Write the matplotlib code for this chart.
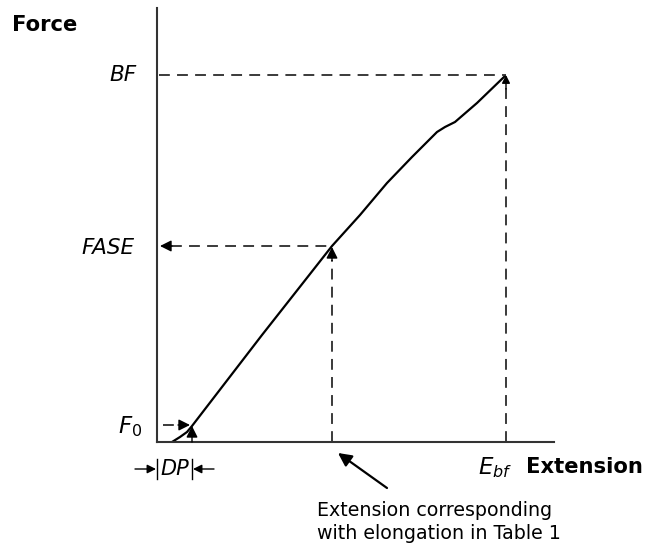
import numpy as np
import matplotlib.pyplot as plt

plt.rcParams['mathtext.fontset'] = 'dejavusans'

# force-extension curve (arbitrary units)
ext = [15, 23, 30, 35, 105, 153, 175, 203, 230, 255, 280, 288, 298, 320, 348]
force = [0, 5, 10, 16, 107, 168, 196, 227, 259, 285, 310, 315, 320, 339, 366]

# marked points
dp, f0 = 35, 17          # DP / F0
e_ase, fase = 175, 196   # extension at FASE
e_bf, bf = 349, 367      # break

fig = plt.figure(figsize=(6.48, 5.44), dpi=100)
ax = fig.add_axes([157 / 648, 102 / 544, 397 / 648, 434 / 544])
ax.set_xlim(0, 397)
ax.set_ylim(0, 434)
for s in ['top', 'right']:
    ax.spines[s].set_visible(False)
for s in ['left', 'bottom']:
    ax.spines[s].set_linewidth(1.5)
    ax.spines[s].set_color('#333333')
ax.set_xticks([])
ax.set_yticks([])

ax.plot(ext, force, color='black', lw=1.6, solid_capstyle='round', solid_joinstyle='round')

dash = dict(color='#2b2b2b', lw=1.3, dashes=(6, 4))
head = dict(arrowstyle='-|>', color='black', lw=1.0, mutation_scale=17, shrinkA=0, shrinkB=0)

# BF guides
ax.plot([2, e_bf], [bf, bf], **dash)
ax.plot([e_bf, e_bf], [0, bf - 12], **dash)
ax.annotate('', xy=(e_bf, bf), xytext=(e_bf, bf - 14), arrowprops=dict(head, mutation_scale=12))

# FASE guides
ax.plot([14, e_ase], [fase, fase], **dash)
ax.annotate('', xy=(3, fase), xytext=(15, fase), arrowprops=head)
ax.plot([e_ase, e_ase], [0, fase - 14], **dash)
ax.annotate('', xy=(e_ase, fase - 1), xytext=(e_ase, fase - 15), arrowprops=head)

# F0 / DP guides
ax.plot([6, dp - 12], [f0, f0], **dash)
ax.annotate('', xy=(dp - 2, f0), xytext=(dp - 14, f0), arrowprops=head)
ax.annotate('', xy=(dp, f0 - 1), xytext=(dp, 0), arrowprops=head)

# DP width marker below the axis
y_dp = -27
ax.plot([0, 0], [y_dp - 10, y_dp + 10], color='black', lw=1.0, clip_on=False)
ax.plot([dp, dp], [y_dp - 10, y_dp + 10], color='black', lw=1.0, clip_on=False)
ax.annotate('', xy=(-1, y_dp), xytext=(-22, y_dp), arrowprops=dict(head, mutation_scale=13),
            annotation_clip=False)
ax.annotate('', xy=(dp + 1, y_dp), xytext=(dp + 22, y_dp), arrowprops=dict(head, mutation_scale=13),
            annotation_clip=False)
ax.text(dp / 2, y_dp, 'DP', fontsize=15, style='italic', ha='center', va='center')

# labels
fs = 13.7
fi = 15.5
fb = 15.2
ax.text(-145, 417, 'Force', fontsize=fb, weight='bold', ha='left', va='center')
ax.text(-20, bf, 'BF', fontsize=fi, style='italic', ha='right', va='center')
ax.text(-22, fase - 2, 'FASE', fontsize=fi, style='italic', ha='right', va='center')
ax.text(-15, f0 - 2, r'$\mathit{F_0}$', fontsize=fi + 1, ha='right', va='center')
ax.text(e_bf + 6, -26, r'$\mathit{E_{bf}}$', fontsize=fi + 1, ha='right', va='center')
ax.text(369, -25, 'Extension', fontsize=fb, weight='bold', ha='left', va='center')

ax.annotate('', xy=(181, -11), xytext=(230, -46),
            arrowprops=dict(arrowstyle='-|>', color='black', lw=1.6, mutation_scale=20,
                            shrinkA=0, shrinkB=0), annotation_clip=False)
ax.text(160, -59, 'Extension corresponding\nwith elongation in Table 1', fontsize=fs,
        ha='left', va='top', linespacing=1.25)

fig.savefig('out.png', dpi=100)
